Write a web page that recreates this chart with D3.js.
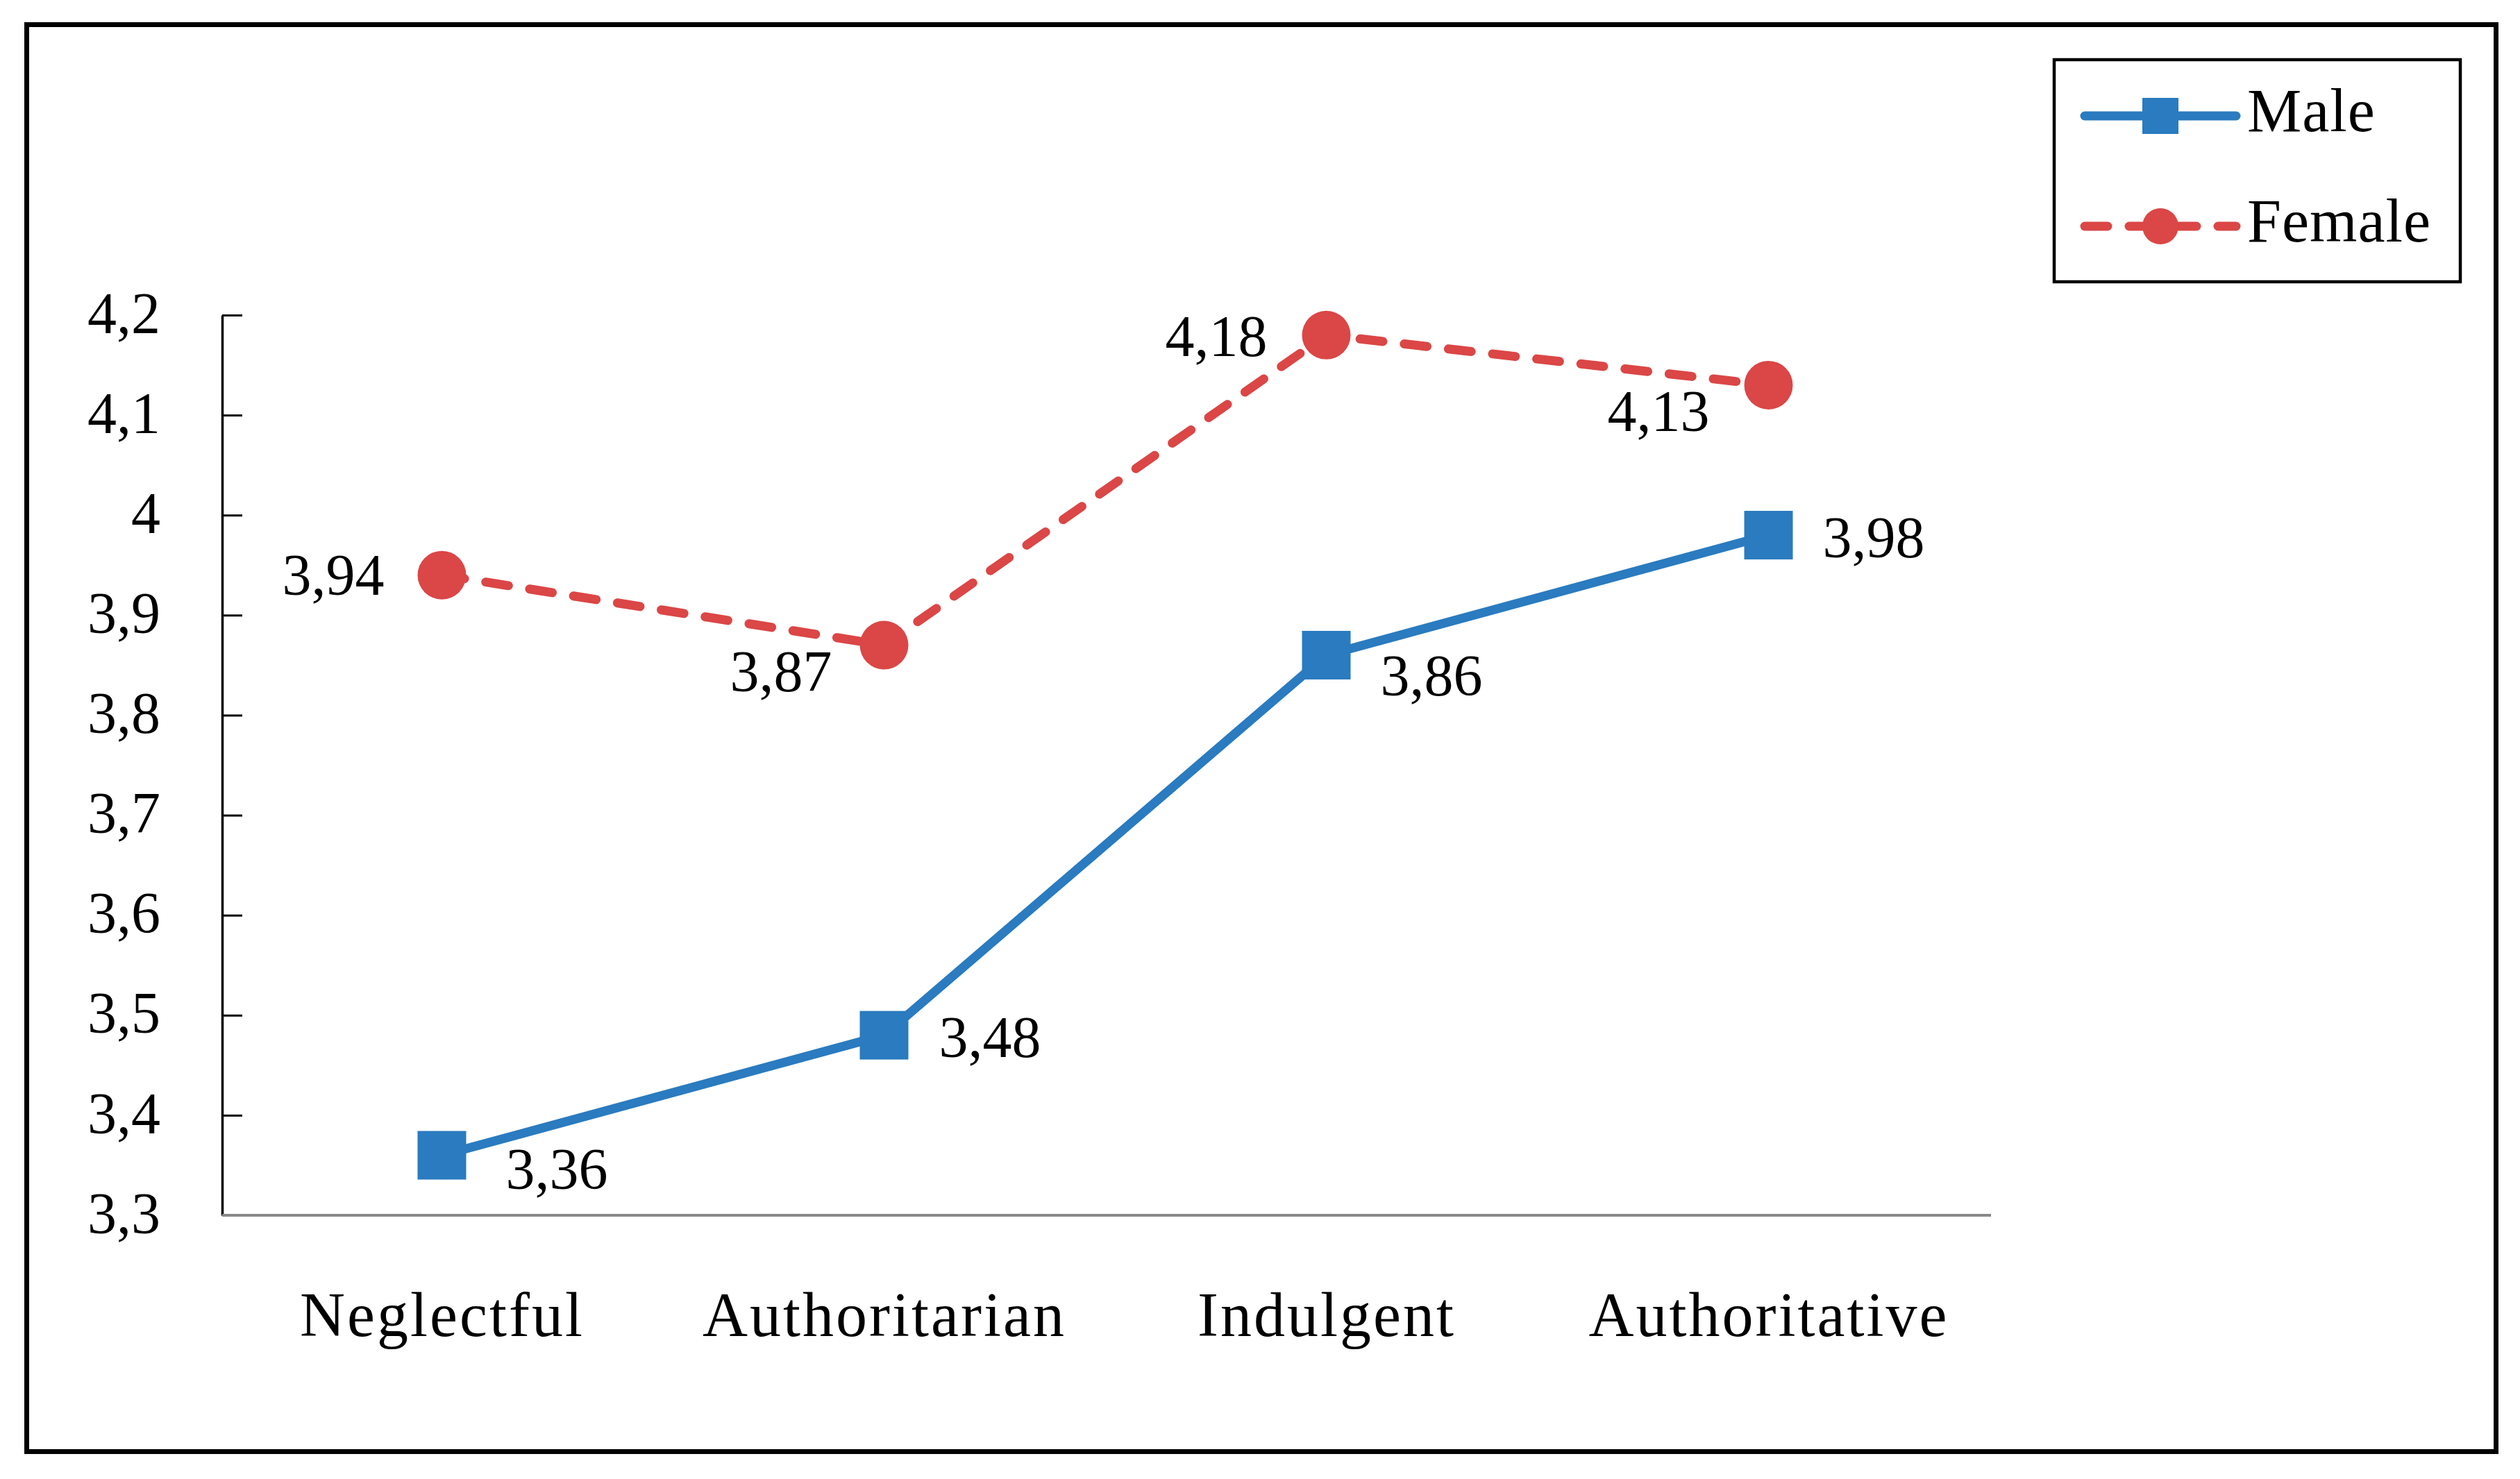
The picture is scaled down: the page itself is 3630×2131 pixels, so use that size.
<!DOCTYPE html>
<html>
<head>
<meta charset="utf-8">
<script src="https://cdn.jsdelivr.net/npm/d3@7"></script>
<style>
  html, body { margin: 0; padding: 0; background: #ffffff; }
  svg { display: block; }
</style>
</head>
<body>
<svg id="chart" width="3630" height="2131"></svg>
<script>
// ---- Data ----
const categories = ["Neglectful", "Authoritarian", "Indulgent", "Authoritative"];
const maleValues = [3.36, 3.48, 3.86, 3.98];
const femaleValues = [3.94, 3.87, 4.18, 4.13];
const yTicks = [3.3, 3.4, 3.5, 3.6, 3.7, 3.8, 3.9, 4.0, 4.1, 4.2];
const seriesNames = ["Male", "Female"];

// ---- Styling / layout ----
const W = 3630, H = 2131;
const blue = "#2a7bbf";
const red = "#db4646";
const fontFamily = "'Liberation Serif', 'Times New Roman', serif";
const plot = { left: 320, right: 2868, top: 454, bottom: 1751 };

// label placement (offset from marker centre)
const maleLabelPlacement = [[92, 48], [79, 31], [78, 58], [78, 32]];
const femaleLabelPlacement = [[-83, 28], [-75, 66], [-85, 30], [-85, 66]];

const locale = d3.formatLocale({ decimal: ",", thousands: ".", grouping: [3], currency: ["", ""] });
const tickFmt = locale.format(".1~f");
const valFmt = locale.format(".2f");

const svg = d3.select("#chart");
svg.append("rect").attr("x", 0).attr("y", 0).attr("width", W).attr("height", H).attr("fill", "#fff");

// outer frame
svg.append("rect")
  .attr("x", 38.5).attr("y", 35.5).attr("width", 3557).attr("height", 2056)
  .attr("fill", "none").attr("stroke", "#000").attr("stroke-width", 7);

const x = d3.scalePoint().domain(categories).range([plot.left - 2, plot.right - 2]).padding(0.5);
const y = d3.scaleLinear().domain([3.3, 4.2]).range([plot.bottom, plot.top]);

// y axis
const yAxis = d3.axisLeft(y)
  .tickValues(yTicks)
  .tickFormat(tickFmt)
  .tickSizeInner(-29)
  .tickSizeOuter(0)
  .tickPadding(89);

const gy = svg.append("g").attr("transform", `translate(${plot.left},0)`).call(yAxis);
gy.select(".domain").attr("stroke", "#000").attr("stroke-width", 3.5);
gy.selectAll(".tick line").attr("stroke", "#000").attr("stroke-width", 3);
gy.selectAll(".tick text")
  .attr("font-family", fontFamily)
  .attr("font-size", 84)
  .attr("fill", "#000")
  .attr("dy", "0.3em");

// x axis
const xAxis = d3.axisBottom(x).tickSize(0).tickPadding(0);
const gx = svg.append("g").attr("transform", `translate(0,${plot.bottom})`).call(xAxis);
gx.select(".domain").remove();
gx.append("line")
  .attr("x1", plot.left).attr("x2", plot.right)
  .attr("y1", 0).attr("y2", 0)
  .attr("stroke", "#888").attr("stroke-width", 4);
gx.selectAll(".tick text")
  .attr("font-family", fontFamily)
  .attr("font-size", 90)
  .attr("letter-spacing", 3)
  .attr("fill", "#000")
  .attr("dy", 0)
  .attr("y", 174);

const line = d3.line().x(d => x(d.cat)).y(d => y(d.v));
const maleData = categories.map((c, i) => ({ cat: c, v: maleValues[i] }));
const femaleData = categories.map((c, i) => ({ cat: c, v: femaleValues[i] }));

const markerSize = 70;

// Female series (dashed, circles)
svg.append("path").datum(femaleData)
  .attr("d", line)
  .attr("fill", "none").attr("stroke", red).attr("stroke-width", 13)
  .attr("stroke-dasharray", "33,31").attr("stroke-linecap", "round");
svg.selectAll("circle.female").data(femaleData).enter().append("circle")
  .attr("class", "female")
  .attr("cx", d => x(d.cat)).attr("cy", d => y(d.v)).attr("r", markerSize / 2)
  .attr("fill", red);

// Male series (solid, squares)
svg.append("path").datum(maleData)
  .attr("d", line)
  .attr("fill", "none").attr("stroke", blue).attr("stroke-width", 13)
  .attr("stroke-linejoin", "round");
svg.selectAll("rect.male").data(maleData).enter().append("rect")
  .attr("class", "male")
  .attr("x", d => x(d.cat) - markerSize / 2).attr("y", d => y(d.v) - markerSize / 2)
  .attr("width", markerSize).attr("height", markerSize)
  .attr("fill", blue);

// data labels
svg.selectAll("text.mlabel").data(maleData).enter().append("text")
  .attr("class", "mlabel")
  .attr("x", (d, i) => x(d.cat) + maleLabelPlacement[i][0])
  .attr("y", (d, i) => y(d.v) + maleLabelPlacement[i][1])
  .attr("text-anchor", "start")
  .attr("font-family", fontFamily).attr("font-size", 84).attr("fill", "#000")
  .text(d => valFmt(d.v));

svg.selectAll("text.flabel").data(femaleData).enter().append("text")
  .attr("class", "flabel")
  .attr("x", (d, i) => x(d.cat) + femaleLabelPlacement[i][0])
  .attr("y", (d, i) => y(d.v) + femaleLabelPlacement[i][1])
  .attr("text-anchor", "end")
  .attr("font-family", fontFamily).attr("font-size", 84).attr("fill", "#000")
  .text(d => valFmt(d.v));

// legend
const lg = svg.append("g");
lg.append("rect")
  .attr("x", 2959).attr("y", 86).attr("width", 585).attr("height", 320)
  .attr("fill", "#fff").attr("stroke", "#000").attr("stroke-width", 4.5);

const legendRows = [
  { name: seriesNames[0], color: blue, dash: null, y: 167, shape: "square" },
  { name: seriesNames[1], color: red, dash: "33,31", y: 326, shape: "circle" }
];
legendRows.forEach(r => {
  const ln = lg.append("line")
    .attr("x1", 3003).attr("x2", 3221).attr("y1", r.y).attr("y2", r.y)
    .attr("stroke", r.color).attr("stroke-width", 13).attr("stroke-linecap", "round");
  if (r.dash) ln.attr("stroke-dasharray", r.dash);
  if (r.shape === "square") {
    lg.append("rect").attr("x", 3112 - 26).attr("y", r.y - 26).attr("width", 52).attr("height", 52).attr("fill", r.color);
  } else {
    lg.append("circle").attr("cx", 3112).attr("cy", r.y).attr("r", 26).attr("fill", r.color);
  }
  lg.append("text")
    .attr("x", 3237).attr("y", r.y + 22)
    .attr("font-family", fontFamily).attr("font-size", 88).attr("letter-spacing", 1).attr("fill", "#000")
    .text(r.name);
});
</script>
</body>
</html>
